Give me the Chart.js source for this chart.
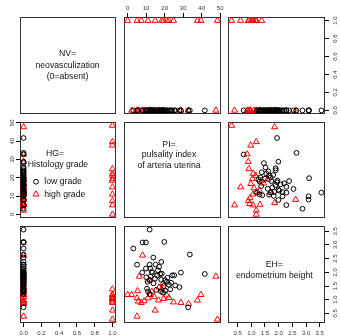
<!DOCTYPE html>
<html>
<head>
<meta charset="utf-8">
<script src="https://cdn.jsdelivr.net/npm/chart.js@4.4.0/dist/chart.umd.min.js"></script>
<style>
  body { margin: 0; background: #fff; }
  #wrap { position: relative; width: 340px; height: 336px; overflow: hidden; }
  #wrap canvas { position: absolute; }
</style>
</head>
<body>
<div id="wrap"></div>
<script>
// one entry per patient: histology grade (0 low, 1 high), NV, PI, EH
const hg = [
  0,0,0,0,0,0,0,0,0,0, 0,0,0,0,0,0,0,0,0,0, 0,0,0,0,0,0,0,0,0,0,
  0,0,0,0,0,0,0,0,0,0, 0,0,0,0,0,0,0,0,0,
  1,1,1,1,1,1,1,1,1,1, 1,1,1,1,1,1,1,1,1,1, 1,1,1,1,1,1,1,1,1,1
];
const nv = [
  0,0,0,0,0,0,0,0,0,0, 0,0,0,0,0,0,0,0,0,0, 0,0,0,0,0,0,0,0,0,0,
  0,0,0,0,0,0,0,0,0,0, 0,0,0,0,0,0,0,0,0,
  0,0,0,0,0,1,0,1,1,0, 1,0,0,0,1,1,1,1,0,0, 1,1,1,0,1,1,0,0,0,0
];
const pi = [
  11.9, 8.1, 9.9, 19.8, 3.1, 33.6, 13.9, 5.1, 11.9, 15.1,
  18.2, 9.9, 12.2, 16.4, 7.9, 13.5, 17.6, 28.8, 41.7, 24.1,
  25.2, 10.1, 12.4, 14.8, 18.2, 20.2, 21.2, 10.8, 22.3, 25.7,
  28.0, 18.0, 19.1, 11.0, 11.9, 20.2, 23.0, 32.7, 14.0, 16.0,
  13.0, 17.0, 19.5, 15.5, 21.5, 12.0, 18.5, 10.5, 23.5,
  8.1, 6.3, 11.9, 19.1, 47.7, 0.0, 2.2, 5.1, 7.4, 5.8,
  11.0, 14.4, 16.7, 12.2, 19.4, 21.2, 22.3, 24.8, 28.8, 32.9,
  37.7, 39.6, 14.9, 5.1, 48.5, 18.5, 13.0, 5.4, 9.0, 17.0
];
const eh = [
  3.56, 3.09, 3.09, 3.11, 2.87, 2.65, 2.54, 2.28, 2.28, 2.28,
  2.38, 2.14, 2.14, 2.07, 1.99, 1.99, 1.94, 1.99, 1.94, 1.89,
  1.89, 1.82, 1.84, 1.77, 1.73, 1.71, 1.65, 1.65, 1.55, 1.52,
  1.46, 1.30, 1.26, 1.30, 1.21, 1.33, 1.38, 0.72, 1.60, 1.88,
  2.02, 2.20, 1.50, 1.36, 1.80, 1.72, 1.95, 1.40, 1.62,
  2.62, 1.85, 1.71, 1.59, 1.85, 1.18, 1.18, 1.06, 0.89, 0.94,
  1.06, 1.10, 0.98, 1.18, 1.04, 1.16, 1.07, 0.91, 0.89, 0.85,
  0.98, 1.18, 0.61, 0.39, 0.28, 1.38, 1.30, 1.32, 0.95, 1.45
];

const nvTicks = [0, 0.2, 0.4, 0.6, 0.8, 1.0];
const nvTickLabels = ['0.0', '0.2', '0.4', '0.6', '0.8', '1.0'];
const piTicks = [0, 10, 20, 30, 40, 50];
const piTickLabels = ['0', '10', '20', '30', '40', '50'];
const ehTicks = [0.5, 1.0, 1.5, 2.0, 2.5, 3.0, 3.5];
const ehTickLabels = ['0.5', '1.0', '1.5', '2.0', '2.5', '3.0', '3.5'];

const diagNV = ['NV=', 'neovasculization', '(0=absent)'];
const diagPI = ['PI=', 'pulsality index', 'of arteria uterina'];
const diagEH = ['EH=', 'endometrium height'];
const hgTitle = ['HG=', 'Histology grade'];
const hgLabels = ['low grade', 'high grade'];

const family = '"Liberation Sans", Arial, Helvetica, sans-serif';
const AX = 20;   // room for an outer axis
const PAD = 3;   // room for markers on the edge
const cols = [[20, 116], [124, 221], [228, 325]];
const rows = [[17, 114], [122, 218], [226, 323]];

// like R: data range widened by 4% on each side
const ext = arr => {
  const lo = Math.min(...arr), hi = Math.max(...arr), d = (hi - lo) * 0.04;
  return [lo - d, hi + d];
};

const vars = [
  { data: nv, ticks: nvTicks, labels: nvTickLabels, range: ext(nv) },
  { data: pi, ticks: piTicks, labels: piTickLabels, range: ext(pi) },
  { data: eh, ticks: ehTicks, labels: ehTickLabels, range: ext(eh) }
];

const axisSides = {
  '0,1': { x: 'top' },
  '0,2': { y: 'right' },
  '1,0': { y: 'left' },
  '2,0': { x: 'bottom' },
  '2,2': { x: 'bottom', y: 'right' }
};
const tickPad = { top: 1.4, bottom: 2.4, left: 0.7, right: 1.8 };

const makeScale = (v, axis, pos) => {
  const show = !!pos;
  const position = pos || (axis === 'x' ? 'bottom' : 'left');
  return {
    type: 'linear',
    position,
    bounds: 'data',
    min: v.range[0],
    max: v.range[1],
    display: show,
    grid: { display: show, drawOnChartArea: false, drawTicks: true, tickLength: 4, color: '#000', lineWidth: 1 },
    border: { display: false },
    ticks: {
      font: { size: 6, family },
      color: '#333',
      padding: tickPad[position],
      autoSkip: false,
      minRotation: axis === 'y' ? 90 : 0,
      maxRotation: axis === 'y' ? 90 : 0,
      crossAlign: axis === 'y' ? 'center' : 'near',
      callback: (val, i) => v.labels[i]
    },
    afterBuildTicks: s => { s.ticks = v.ticks.map(t => ({ value: t })); },
    afterFit: s => {
      // keep the plot box exactly where the panel is
      s.paddingLeft = s.paddingRight = s.paddingTop = s.paddingBottom = 0;
      if (!show) return;
      if (axis === 'x') s.height = AX; else s.width = AX;
    }
  };
};

const drawSymbol = (ctx, style, r, x, y, color) => {
  ctx.strokeStyle = color;
  ctx.fillStyle = 'rgba(0,0,0,0)';
  ctx.lineWidth = 1;
  Chart.helpers.drawPoint(ctx, { pointStyle: style, radius: r, rotation: 0, borderWidth: 1 }, x, y);
};

const panelPlugin = {
  id: 'panel',
  beforeDatasetsDraw(chart) {
    const { ctx, chartArea: a } = chart;
    ctx.save();
    ctx.strokeStyle = '#333';
    ctx.lineWidth = 1;
    ctx.strokeRect(Math.round(a.left) + 0.5, Math.round(a.top) + 0.5, Math.round(a.width) - 1, Math.round(a.height) - 1);
    ctx.restore();
  },
  afterDatasetsDraw(chart, args, opts) {
    const { ctx, chartArea: a } = chart;
    ctx.save();
    ctx.font = '8.7px ' + family;
    ctx.fillStyle = '#111';
    ctx.textBaseline = 'middle';
    (opts.text || []).forEach(t => {
      ctx.textAlign = t.align || 'center';
      ctx.fillText(t.s, a.left + t.fx * a.width, a.top + t.fy * a.height);
    });
    (opts.symbols || []).forEach(t => {
      drawSymbol(ctx, t.style, t.r, a.left + t.fx * a.width, a.top + t.fy * a.height, t.color);
    });
    ctx.restore();
  }
};

const diagText = {
  0: diagNV.map((s, i) => ({ s, fx: 0.495, fy: [0.374, 0.502, 0.613][i] })),
  1: diagPI.map((s, i) => ({ s, fx: 0.464, fy: [0.232, 0.336, 0.451][i] })),
  2: diagEH.map((s, i) => ({ s, fx: 0.477, fy: [0.395, 0.515][i] }))
};
const legendText = [
  { s: hgTitle[0], fx: 0.365, fy: 0.333 },
  { s: hgTitle[1], fx: 0.396, fy: 0.448 },
  { s: hgLabels[0], fx: 0.253, fy: 0.622, align: 'left' },
  { s: hgLabels[1], fx: 0.253, fy: 0.753, align: 'left' }
];
const legendSymbols = [
  { style: 'circle', r: 2.4, fx: 0.167, fy: 0.622, color: '#000' },
  { style: 'triangle', r: 3.5, fx: 0.167, fy: 0.753, color: '#f00' }
];

const wrap = document.getElementById('wrap');

for (let r = 0; r < 3; r++) {
  for (let c = 0; c < 3; c++) {
    const [x0, x1] = cols[c], [y0, y1] = rows[r];
    const sides = axisSides[r + ',' + c] || {};
    const m = {
      top: sides.x === 'top' ? AX : PAD,
      bottom: sides.x === 'bottom' ? AX : PAD,
      left: sides.y === 'left' ? AX : PAD,
      right: sides.y === 'right' ? AX : PAD
    };
    const canvas = document.createElement('canvas');
    canvas.width = x1 - x0 + m.left + m.right;
    canvas.height = y1 - y0 + m.top + m.bottom;
    canvas.style.left = (x0 - m.left) + 'px';
    canvas.style.top = (y0 - m.top) + 'px';
    wrap.appendChild(canvas);

    const xv = vars[c], yv = vars[r];
    const datasets = [];
    if (r !== c) {
      const pts = g => xv.data.map((x, i) => ({ x, y: yv.data[i], g: hg[i] }))
        .filter(p => p.g === g).map(p => ({ x: p.x, y: p.y }));
      datasets.push({
        data: pts(0), pointStyle: 'circle', pointRadius: 2.4, pointBorderWidth: 1,
        pointBorderColor: '#000', pointBackgroundColor: 'rgba(0,0,0,0)', clip: false
      });
      datasets.push({
        data: pts(1), pointStyle: 'triangle', pointRadius: 3.5, pointBorderWidth: 1,
        pointBorderColor: '#f00', pointBackgroundColor: 'rgba(0,0,0,0)', clip: false
      });
    }

    let text = [], symbols = [];
    if (r === c) text = diagText[r];
    if (r === 1 && c === 0) { text = legendText; symbols = legendSymbols; }

    new Chart(canvas, {
      type: 'scatter',
      data: { datasets },
      options: {
        responsive: false,
        animation: false,
        events: [],
        layout: {
          autoPadding: false,
          padding: {
            top: sides.x === 'top' ? 0 : m.top,
            bottom: sides.x === 'bottom' ? 0 : m.bottom,
            left: sides.y === 'left' ? 0 : m.left,
            right: sides.y === 'right' ? 0 : m.right
          }
        },
        scales: {
          x: makeScale(xv, 'x', sides.x),
          y: makeScale(yv, 'y', sides.y)
        },
        plugins: {
          legend: { display: false },
          tooltip: { enabled: false },
          panel: { text, symbols }
        }
      },
      plugins: [panelPlugin]
    });
  }
}
</script>
</body>
</html>
